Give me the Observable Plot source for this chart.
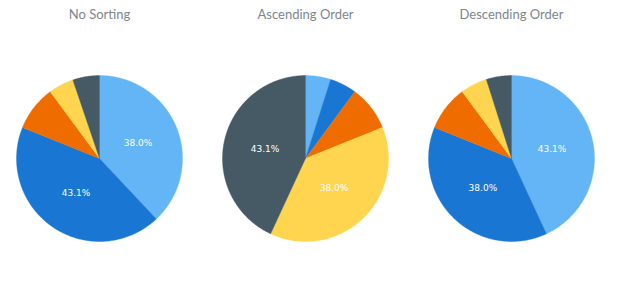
<!DOCTYPE html>
<html>
<head>
<meta charset="utf-8">
<script src="https://cdn.jsdelivr.net/npm/d3@7"></script>
<script src="https://cdn.jsdelivr.net/npm/@observablehq/plot@0.6"></script>
<style>
  html, body { margin: 0; padding: 0; background: #ffffff; }
</style>
</head>
<body>
<div id="chart"></div>
<script>
// ---- data ----
const values = [38.0, 43.1, 8.8, 4.9, 5.2];
const sortModes = ["No Sorting", "Ascending Order", "Descending Order"];
const palette = ["#64b5f6", "#1976d2", "#ef6c00", "#ffd54f", "#455a64"];

// order values for each sort mode
function ordered(mode) {
  const v = values.slice();
  if (mode === "Ascending Order") v.sort((a, b) => a - b);
  if (mode === "Descending Order") v.sort((a, b) => b - a);
  return v;
}

const pie = d3.pie().sort(null).value(d => d);
const slicePoints = [];
const labels = [];
for (const mode of sortModes) {
  const arcs = pie(ordered(mode));
  arcs.forEach((a, i) => {
    const key = mode + "|" + i;
    slicePoints.push({mode, key, slot: i, x: 0, y: 0});
    const n = Math.max(2, Math.ceil((a.endAngle - a.startAngle) / (Math.PI / 360)));
    for (let k = 0; k <= n; k++) {
      const t = a.startAngle + (a.endAngle - a.startAngle) * k / n;
      slicePoints.push({mode, key, slot: i, x: Math.sin(t), y: Math.cos(t)});
    }
    slicePoints.push({mode, key, slot: i, x: 0, y: 0});
    if (a.value > 10) {
      const m = (a.startAngle + a.endAngle) / 2;
      labels.push({mode, x: 0.5 * Math.sin(m), y: 0.5 * Math.cos(m), text: a.value.toFixed(1) + "%"});
    }
  });
}

const chart = Plot.plot({
  width: 620,
  height: 300,
  marginLeft: -4,
  marginRight: 6,
  marginTop: 40,
  marginBottom: 24,
  style: {background: "#ffffff", fontFamily: "Lato, sans-serif"},
  fx: {domain: sortModes, padding: 0, axis: null},
  x: {domain: [-1.241, 1.241], axis: null},
  y: {domain: [-1.422, 1.422], axis: null},
  color: {type: "ordinal", domain: [0, 1, 2, 3, 4], range: palette},
  marks: [
    Plot.line(slicePoints, {x: "x", y: "y", fx: "mode", z: "key", fill: "slot", stroke: "slot", strokeWidth: 0.4, curve: "linear"}),
    Plot.text(labels, {x: "x", y: "y", fx: "mode", text: "text", fill: "white", fontSize: 9, fontFamily: "DejaVu Sans"}),
    Plot.text(sortModes, {fx: d => d, text: d => d, frameAnchor: "top", lineAnchor: "middle", dy: -26, fill: "#7c868e", fontSize: 13})
  ]
});
document.getElementById("chart").appendChild(chart);
</script>
</body>
</html>
